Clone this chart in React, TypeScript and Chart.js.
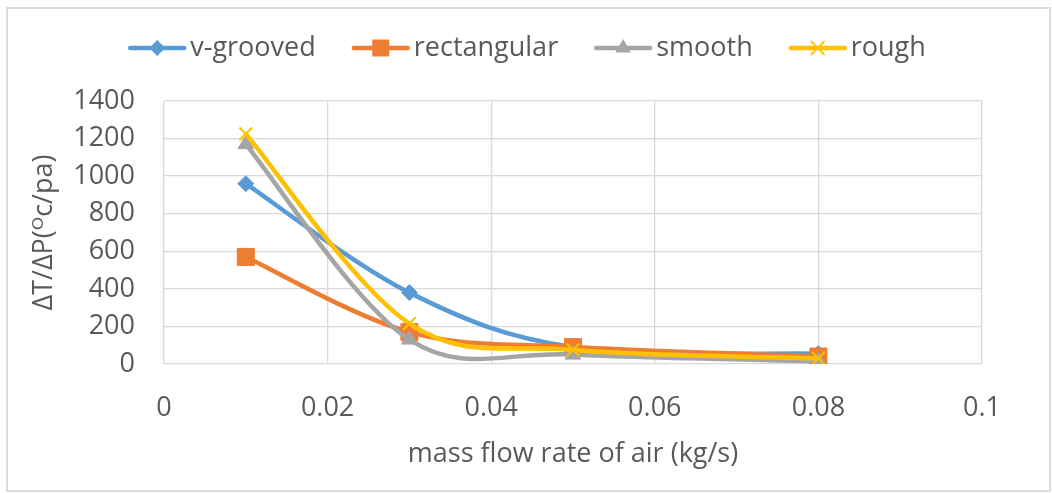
import React, { useEffect, useRef } from 'react';
import { Chart, registerables } from 'chart.js';

Chart.register(...registerables);

// ---- data ----
const xValues = [0.01, 0.03, 0.05, 0.08];
const seriesNames = ['v-grooved', 'rectangular', 'smooth', 'rough'];
const vGrooved = [960, 380, 90, 55];
const rectangular = [570, 170, 90, 40];
const smooth = [1170, 130, 50, 15];
const rough = [1225, 215, 75, 30];
const xTickValues = [0, 0.02, 0.04, 0.06, 0.08, 0.1];
const yTickValues = [0, 200, 400, 600, 800, 1000, 1200, 1400];
const xTitle = 'mass flow rate of air (kg/s)';
const yTitle = 'ΔT/ΔP(ᴼc/pa)';

const colors = ['#5B9BD5', '#ED7D31', '#A5A5A5', '#FFC000'];
const pointStyles = ['rectRot', 'rect', 'triangle', 'crossRot'];
const pointRadii = [8, 12, 9, 9];
const FONT = "'Open Sans', 'DejaVu Sans', sans-serif";
const TEXT = '#595959';
const GRID = '#d9d9d9';

function drawMarker(ctx: CanvasRenderingContext2D, style: string, x: number, y: number, r: number, color: string) {
  ctx.save();
  ctx.fillStyle = color;
  ctx.strokeStyle = color;
  ctx.lineWidth = 2;
  ctx.beginPath();
  if (style === 'rectRot') {
    ctx.moveTo(x, y - r);
    ctx.lineTo(x + r, y);
    ctx.lineTo(x, y + r);
    ctx.lineTo(x - r, y);
    ctx.closePath();
    ctx.fill();
  } else if (style === 'rect') {
    const s = r * Math.SQRT1_2;
    ctx.rect(x - s, y - s, 2 * s, 2 * s);
    ctx.fill();
  } else if (style === 'triangle') {
    ctx.moveTo(x, y - r);
    ctx.lineTo(x + r * 0.866, y + r * 0.5);
    ctx.lineTo(x - r * 0.866, y + r * 0.5);
    ctx.closePath();
    ctx.fill();
  } else {
    const d = r * Math.SQRT1_2;
    ctx.moveTo(x - d, y - d);
    ctx.lineTo(x + d, y + d);
    ctx.moveTo(x + d, y - d);
    ctx.lineTo(x - d, y + d);
    ctx.stroke();
  }
  ctx.restore();
}

const customLegend = {
  id: 'customLegend',
  afterDraw(chart: any) {
    const ctx: CanvasRenderingContext2D = chart.ctx;
    ctx.save();
    ctx.font = `27px ${FONT}`;
    const lineLen = 54;
    const gapText = 6;
    const gapItem = 38;
    const widths = seriesNames.map((n) => lineLen + gapText + ctx.measureText(n).width);
    const total = widths.reduce((a, b) => a + b, 0) + gapItem * (seriesNames.length - 1);
    let x = 528 - total / 2;
    const y = 48;
    seriesNames.forEach((name, i) => {
      ctx.strokeStyle = colors[i];
      ctx.lineWidth = 4.5;
      ctx.lineCap = 'round';
      ctx.beginPath();
      ctx.moveTo(x, y);
      ctx.lineTo(x + lineLen, y);
      ctx.stroke();
      drawMarker(ctx, pointStyles[i], x + lineLen / 2, y, pointRadii[i], colors[i]);
      ctx.fillStyle = TEXT;
      ctx.textAlign = 'left';
      ctx.textBaseline = 'middle';
      ctx.fillText(name, x + lineLen + gapText, y);
      x += widths[i] + gapItem;
    });
    ctx.restore();
  },
};

// Excel-style (Catmull-Rom) smoothing of the line's control points
const excelSmooth = {
  id: 'excelSmooth',
  beforeDatasetDraw(chart: any, args: any) {
    const meta = args.meta;
    const line = meta.dataset;
    const pts = meta.data;
    if (!line || !pts || !line.updateControlPoints) return;
    line.updateControlPoints(chart.chartArea, 'x');
    const n = pts.length;
    for (let i = 0; i < n; i++) {
      const p = pts[i];
      const prev = pts[Math.max(0, i - 1)];
      const next = pts[Math.min(n - 1, i + 1)];
      const dx = (next.x - prev.x) / 6;
      const dy = (next.y - prev.y) / 6;
      p.cp1x = p.x - dx;
      p.cp1y = p.y - dy;
      p.cp2x = p.x + dx;
      p.cp2y = p.y + dy;
    }
    line._path = undefined;
  },
};

const seriesValues = [vGrooved, rectangular, smooth, rough];

export default function App() {
  const ref = useRef<HTMLCanvasElement | null>(null);
  useEffect(() => {
    if (!ref.current) return;
    const datasets = seriesNames.map((name, i) => ({
      label: name,
      data: xValues.map((x, j) => ({ x, y: seriesValues[i][j] })),
      borderColor: colors[i],
      backgroundColor: colors[i],
      borderWidth: 4.5,
      pointStyle: pointStyles[i],
      pointRadius: pointRadii[i],
      pointHoverRadius: pointRadii[i],
      pointBorderColor: colors[i],
      pointBackgroundColor: colors[i],
      pointBorderWidth: i === 3 ? 2 : 1,
      tension: 0.4,
      fill: false,
      order: 4 - i,
    }));
    const chart = new Chart(ref.current, {
      type: 'line',
      data: { datasets },
      plugins: [excelSmooth, customLegend],
      options: {
        responsive: false,
        animation: false,
        layout: { padding: { top: 101, left: 0, right: 70, bottom: 0 } },
        plugins: { legend: { display: false }, tooltip: { enabled: false } },
        scales: {
          x: {
            type: 'linear',
            min: 0,
            max: 0.1,
            afterBuildTicks: (scale: any) => {
              scale.ticks = xTickValues.map((v) => ({ value: v }));
            },
            afterFit: (scale: any) => {
              scale.height = 129;
            },
            ticks: {
              color: TEXT,
              font: { size: 27, family: FONT },
              padding: 28,
              maxRotation: 0,
              callback: (v: any) => String(Number(Number(v).toFixed(2))),
            },
            grid: { color: GRID, lineWidth: 1.3, drawTicks: false },
            border: { display: false },
            title: {
              display: true,
              text: xTitle,
              color: TEXT,
              font: { size: 27, family: FONT },
              padding: { top: 0, bottom: 22 },
            },
          },
          y: {
            type: 'linear',
            min: 0,
            max: 1400,
            afterBuildTicks: (scale: any) => {
              scale.ticks = yTickValues.map((v) => ({ value: v }));
            },
            afterFit: (scale: any) => {
              scale.width = 164;
            },
            ticks: {
              color: TEXT,
              font: { size: 27, family: FONT },
              padding: 29,
              callback: (v: any) => String(v),
            },
            grid: { color: GRID, lineWidth: 1.3, drawTicks: false },
            border: { display: false },
            title: {
              display: true,
              text: yTitle,
              color: TEXT,
              font: { size: 27, family: FONT },
              padding: { top: 28, bottom: 0 },
            },
          },
        },
      } as any,
    });
    return () => chart.destroy();
  }, []);
  return (
    <div style={{ position: 'absolute', left: 0, top: 0, width: 1052, height: 493, background: '#fff' }}>
      <canvas ref={ref} width={1052} height={493} style={{ display: 'block', width: 1052, height: 493 }} />
      <div
        style={{
          position: 'absolute',
          left: 6,
          top: 7,
          width: 1045,
          height: 485,
          border: '2px solid #dcdcdc',
          boxSizing: 'border-box',
          pointerEvents: 'none',
        }}
      />
    </div>
  );
}
